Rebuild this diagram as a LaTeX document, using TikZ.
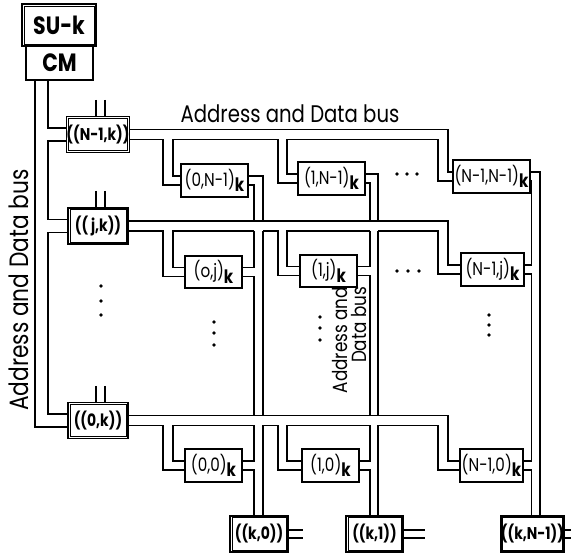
\documentclass[tikz,border=0pt]{standalone}
\usepackage{fontspec}
\setmainfont{Poppins}
\newfontfamily\cf[FakeStretch=0.82]{Poppins}
\newcommand\sk{\raisebox{-0.3em}{\textbf{k}}}
\newcommand\glab{\cf\fontsize{18.5}{18.5}\selectfont}
\newcommand\llab{\cf\fontsize{17}{17}\selectfont\bfseries}
\newcommand\buslab{\cf\fontsize{24}{24}\selectfont}
\newcommand\innerbox[1]{\draw[line width=0.8pt] ([shift={(2.8pt,2.8pt)}]#1.south west) rectangle ([shift={(-2.8pt,-2.8pt)}]#1.north east);}
\begin{document}
\begin{tikzpicture}[x=1pt,y=-1pt,line width=1.2pt,line join=miter,
  gbox/.style={draw,line width=1.2pt,inner sep=0pt,font=\glab,minimum height=33pt},
  lbox/.style={draw,line width=1.8pt,inner sep=0pt,font=\llab,minimum width=60pt,minimum height=36pt},
  kbox/.style={draw,line width=1.8pt,inner sep=0pt,font=\llab,minimum height=36pt},
  dotf/.style={fill,circle,inner sep=0pt,minimum size=3.8pt}]
\useasboundingbox (0,0) rectangle (571,553);
% SU-k and CM
\node[draw,line width=1.6pt,inner sep=0pt,minimum width=74pt,minimum height=42pt,font=\cf\fontsize{25}{25}\selectfont\bfseries] (su) at (59,25) {SU-k};
\innerbox{su}
\node[draw,line width=1.2pt,inner sep=0pt,minimum width=67pt,minimum height=34pt,font=\cf\fontsize{25}{25}\selectfont\bfseries] (cm) at (59.5,63) {CM};
% left column boxes
\node[lbox] (l1) at (98,134.5) {((N-1,k))}; \innerbox{l1}
\node[lbox] (l2) at (98,226) {(( j,k))}; \innerbox{l2}
\node[lbox] (l3) at (98,420.5) {((0,k))}; \innerbox{l3}
% grid boxes
\node[gbox,minimum width=67pt] (g0t) at (214.5,180.5) {(0,N-1)\sk};
\node[gbox,minimum width=67pt] (g1t) at (331.5,178.5) {(1,N-1)\sk};
\node[gbox,minimum width=77pt] (gNt) at (491.5,176.5) {(N-1,N-1)\sk};
\node[gbox,minimum width=57pt,minimum height=32pt] (g0j) at (213.5,272) {(o,j)\sk};
\node[gbox,minimum width=57pt,minimum height=32pt] (g1j) at (328.5,271) {(1,j)\sk};
\node[gbox,minimum width=63pt] (gNj) at (492.5,269.5) {(N-1,j)\sk};
\node[gbox,minimum width=57pt] (g00) at (213.5,465.5) {(0,0)\sk};
\node[gbox,minimum width=57pt] (g10) at (330.5,465.5) {(1,0)\sk};
\node[gbox,minimum width=63pt] (gN0) at (491.5,465.5) {(N-1,0)\sk};
% bottom nodes
\node[kbox,minimum width=58pt] (k0) at (259,534) {((k,0))}; \innerbox{k0}
\node[kbox,minimum width=57pt] (k1) at (374.5,534) {((k,1))}; \innerbox{k1}
\node[kbox,minimum width=61pt] (kN) at (532.5,534) {((k,N-1))}; \innerbox{kN}
% left bus
\draw (cm.south -| 35,0) -- (35,427) -- (l3.west |- 0,427);
\draw (cm.south -| 48,0) -- (48,128) -- (l1.west |- 0,128);
\draw (l1.west |- 0,141) -- (48,141) -- (48,219.5) -- (l2.west |- 0,219.5);
\draw (l2.west |- 0,232.5) -- (48,232.5) -- (48,414) -- (l3.west |- 0,414);
% stubs above left boxes
\foreach \n/\y in {l1/100,l2/191,l3/386}{
  \draw (96,\y) -- (\n.north -| 96,0);
  \draw (105,\y) -- (\n.north -| 105,0);}
% row top
\draw (l1.east |- 0,129.5) -- (448,129.5) -- (448,172) -- (gNt.west |- 0,172);
\draw (l1.east |- 0,139.5) -- (163,139.5) -- (163,185) -- (g0t.west |- 0,185);
\draw (g0t.west |- 0,176) -- (173,176) -- (173,139.5) -- (278,139.5) -- (278,183) -- (g1t.west |- 0,183);
\draw (g1t.west |- 0,174) -- (287,174) -- (287,139.5) -- (438,139.5) -- (438,181) -- (gNt.west |- 0,181);
% row j
\draw (l2.east |- 0,221) -- (448,221) -- (448,265) -- (gNj.west |- 0,265);
\draw (l2.east |- 0,231) -- (163,231) -- (163,276.5) -- (g0j.west |- 0,276.5);
\draw (g0j.west |- 0,267.5) -- (173,267.5) -- (173,231) -- (254,231);
\draw (263,231) -- (278,231) -- (278,275.5) -- (g1j.west |- 0,275.5);
\draw (g1j.west |- 0,266.5) -- (287,266.5) -- (287,231) -- (370,231);
\draw (378,231) -- (438,231) -- (438,274) -- (gNj.west |- 0,274);
% row 0
\draw (l3.east |- 0,415.5) -- (448,415.5) -- (448,461) -- (gN0.west |- 0,461);
\draw (l3.east |- 0,425.5) -- (163,425.5) -- (163,470) -- (g00.west |- 0,470);
\draw (g00.west |- 0,461) -- (173,461) -- (173,425.5) -- (254,425.5);
\draw (263,425.5) -- (278,425.5) -- (278,470) -- (g10.west |- 0,470);
\draw (g10.west |- 0,461) -- (287,461) -- (287,425.5) -- (370,425.5);
\draw (378,425.5) -- (438,425.5) -- (438,470) -- (gN0.west |- 0,470);
% column 0
\draw (g0t.east |- 0,176) -- (263,176) -- (263,221);
\draw (263,231) -- (263,415.5);
\draw (263,425.5) -- (k0.north -| 263,0);
\draw (g0t.east |- 0,185) -- (254,185) -- (254,221);
\draw (254,231) -- (254,267.5) -- (g0j.east |- 0,267.5);
\draw (g0j.east |- 0,276.5) -- (254,276.5) -- (254,415.5);
\draw (254,425.5) -- (254,461) -- (g00.east |- 0,461);
\draw (g00.east |- 0,470) -- (254,470) -- (k0.north -| 254,0);
% column 1
\draw (g1t.east |- 0,174) -- (378,174) -- (378,221);
\draw (378,231) -- (378,415.5);
\draw (378,425.5) -- (k1.north -| 378,0);
\draw (g1t.east |- 0,183) -- (370,183) -- (370,221);
\draw (370,231) -- (370,266.5) -- (g1j.east |- 0,266.5);
\draw (g1j.east |- 0,275.5) -- (370,275.5) -- (370,415.5);
\draw (370,425.5) -- (370,461) -- (g10.east |- 0,461);
\draw (g10.east |- 0,470) -- (370,470) -- (k1.north -| 370,0);
% column N-1
\draw (gNt.east |- 0,172) -- (540,172) -- (kN.north -| 540,0);
\draw (gNt.east |- 0,181) -- (531.5,181) -- (531.5,265) -- (gNj.east |- 0,265);
\draw (gNj.east |- 0,274) -- (531.5,274) -- (531.5,461) -- (gN0.east |- 0,461);
\draw (gN0.east |- 0,470) -- (531.5,470) -- (kN.north -| 531.5,0);
% bottom stubs
\coordinate (e0) at (303,0); \coordinate (e1) at (425,0); \coordinate (eN) at (571,0);
\foreach \n/\e in {k0/e0,k1/e1,kN/eN}{
  \draw (\n.east |- 0,530) -- (\e |- 0,530);
  \draw (\n.east |- 0,538) -- (\e |- 0,538);}
% labels
\node[font=\buslab] (tb) at (290,114) {Address and Data bus};
\node[font=\cf\fontsize{26.5}{26.5}\selectfont,rotate=90] (lb) at (19,290) {Address and Data bus};
\node[font=\cf\fontsize{20.5}{19}\selectfont,rotate=90,align=right,inner sep=0pt] (mb) at (350,340) {Address and\\Data bus};
% dots
\foreach \y in {286,301,315} \node[dotf] at (101,\y) {};
\foreach \y in {322,333,345} \node[dotf] at (214,\y) {};
\foreach \y in {317,328,340} \node[dotf] at (320,\y) {};
\foreach \y in {315,325,335} \node[dotf] at (489,\y) {};
\foreach \x in {397,407,417} \node[dotf] at (\x,174) {};
\foreach \x in {397,408,419} \node[dotf] at (\x,271) {};
\end{tikzpicture}
\end{document}
